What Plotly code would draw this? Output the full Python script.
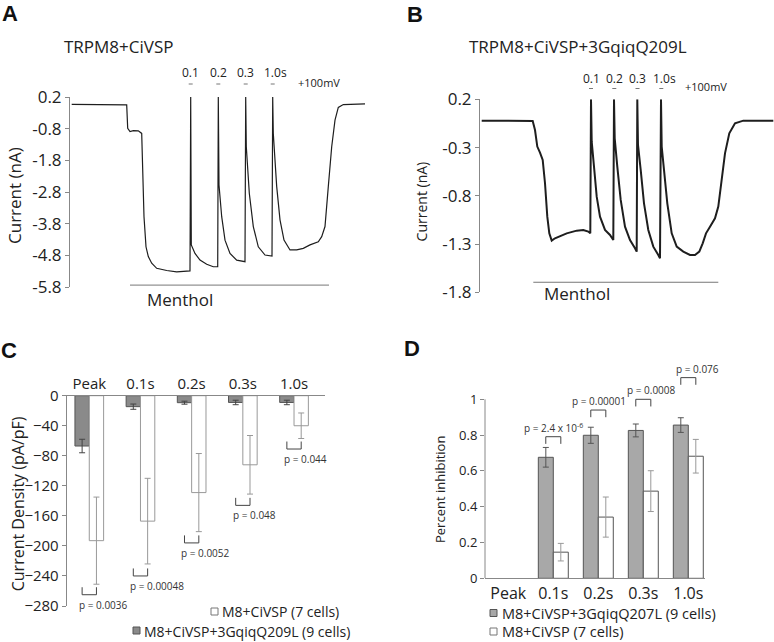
import plotly.graph_objects as go

W, H = 774, 642
FONT = "Open Sans"

# ---- panel A: TRPM8+CiVSP current trace (time arb. units, current nA)
a_time = [1.7, 30, 56.7, 57.7, 60, 63.3, 68.3, 71.7, 72.7, 74, 76, 78.3, 81.7, 86.7, 96.7, 106.7, 120,
          120.7, 121.3, 125, 130, 136.7, 143.3, 147.7,
          148.3, 149, 151.7, 155, 160, 166.7, 175,
          175.7, 176.3, 179.3, 183.3, 188.3, 195, 202,
          202.7, 203.3, 206.7, 210, 214, 220, 226.7, 233.3, 240, 245, 248.3, 251.7, 255, 258.3,
          261.7, 265, 268.3, 273.3, 295]
a_current = [-0.03, -0.04, -0.05, -0.79, -0.89, -0.86, -0.87, -0.95, -2.0, -3.58, -4.53, -4.84, -5.05, -5.21, -5.28, -5.32, -5.29,
             0.2, -4.47, -4.74, -4.95, -5.08, -5.16, -5.16,
             0.2, -2.58, -3.58, -4.32, -4.74, -4.95, -5.0,
             0.2, -1.37, -2.84, -3.89, -4.53, -4.79, -4.82,
             0.2, -0.95, -2.63, -3.68, -4.32, -4.63, -4.63, -4.58, -4.47, -4.40, -4.37, -4.21, -3.89, -2.63,
             -1.37, -0.53, -0.13, -0.04, -0.02]
a_menthol = [60, 259]
a_menthol_level = -5.74
a_ticks = [0.2, -0.8, -1.8, -2.8, -3.8, -4.8, -5.8]
a_pulse_t = [120.7, 148.3, 175.7, 202.7]

# ---- panel B: TRPM8+CiVSP+3GqiqQ209L
b_time = [1.7, 26.7, 52.7, 55, 57.3, 60, 62.7, 65, 67.3, 69.3, 71.7, 75, 80, 86.7, 96.7, 103.3, 108.3, 110.3,
          111, 111.7, 114, 116.7, 120, 125, 130, 133.3,
          134, 134.7, 137.3, 140.7, 145, 150, 155, 156.7,
          157.3, 158, 160.7, 164, 168.3, 173.3, 178.3, 180,
          181, 181.7, 184, 187.3, 191.7, 196.7, 203.3, 210, 215, 219.3, 222.7, 226, 230, 235, 238.3,
          241.7, 245, 249.3, 255, 263.3, 293.3]
b_current = [-0.021, -0.021, -0.025, -0.118, -0.29, -0.353, -0.429, -0.67, -1.016, -1.189, -1.265, -1.24, -1.216, -1.189, -1.161, -1.154, -1.171, -1.189,
             0.2, -0.239, -0.498, -0.809, -1.016, -1.154, -1.206, -1.258,
             0.2, -0.204, -0.498, -0.843, -1.12, -1.258, -1.344, -1.379,
             0.2, -0.273, -0.532, -0.878, -1.154, -1.327, -1.413, -1.448,
             0.2, -0.29, -0.532, -0.878, -1.189, -1.327, -1.379, -1.413, -1.413, -1.379, -1.292, -1.189, -1.12, -1.033, -0.912,
             -0.636, -0.36, -0.152, -0.049, -0.021, -0.021]
b_menthol = [53.3, 238.3]
b_menthol_level = -1.696
b_ticks = [0.2, -0.3, -0.8, -1.3, -1.8]
b_pulse_t = [111, 134.3, 157.5, 181.3]
pulse_labels = ["0.1", "0.2", "0.3", "1.0s"]

# ---- panel C: current density (pA/pF)
categories = ["Peak", "0.1s", "0.2s", "0.3s", "1.0s"]
c_gq = [-67, -14.6, -9.3, -9, -9]
c_gq_err = [9, 3.5, 2, 3, 3]
c_ctrl = [-193, -167, -129, -92, -40]
c_ctrl_err = [58, 57, 52, 39, 17]
c_p = ["p = 0.0036", "p = 0.00048", "p = 0.0052", "p = 0.048", "p = 0.044"]
c_bracket = [-255, -230, -186, -136, -61]
c_ticks = [0, -40, -80, -120, -160, -200, -240, -280]

# ---- panel D: percent inhibition
d_gq = [None, 0.676, 0.799, 0.826, 0.856]
d_gq_err = [0, 0.055, 0.045, 0.036, 0.041]
d_ctrl = [None, 0.146, 0.342, 0.487, 0.682]
d_ctrl_err = [0, 0.049, 0.112, 0.114, 0.094]
d_p = ["p = 2.4 x 10<sup>-6</sup>", "p = 0.00001", "p = 0.0008", "p = 0.076"]
d_bracket = [0.791, 0.94, 1.0, 1.121]
d_ticks = [0, 0.2, 0.4, 0.6, 0.8, 1]


def px(x):
    return x / W


def py(y):
    return 1 - y / H


fig = go.Figure()

# traces A and B
fig.add_trace(go.Scatter(x=a_time, y=a_current, mode="lines", line=dict(color="#1e1e1e", width=1.2),
                         xaxis="x", yaxis="y", hoverinfo="skip"))
fig.add_trace(go.Scatter(x=b_time, y=b_current, mode="lines", line=dict(color="#1e1e1e", width=2),
                         xaxis="x2", yaxis="y2", hoverinfo="skip"))
fig.add_trace(go.Scatter(x=a_menthol, y=[a_menthol_level] * 2, mode="lines", line=dict(color="#777", width=1),
                         xaxis="x", yaxis="y", hoverinfo="skip"))
fig.add_trace(go.Scatter(x=b_menthol, y=[b_menthol_level] * 2, mode="lines", line=dict(color="#777", width=1),
                         xaxis="x2", yaxis="y2", hoverinfo="skip"))

# bars C
xs = list(range(len(categories)))
fig.add_trace(go.Bar(x=xs, y=c_gq, width=0.28, offset=-0.28, xaxis="x3", yaxis="y3",
                     marker=dict(color="#8a8a8a", line=dict(color="#555", width=1)),
                     error_y=dict(type="data", array=c_gq_err, color="#444", thickness=1, width=3)))
fig.add_trace(go.Bar(x=xs, y=c_ctrl, width=0.28, offset=0, xaxis="x3", yaxis="y3",
                     marker=dict(color="white", line=dict(color="#999", width=1)),
                     error_y=dict(type="data", array=c_ctrl_err, color="#999", thickness=1, width=3)))

# bars D
fig.add_trace(go.Bar(x=xs, y=d_gq, width=0.333, offset=-0.333, xaxis="x4", yaxis="y4",
                     marker=dict(color="#a8a8a8", line=dict(color="#555", width=1)),
                     error_y=dict(type="data", array=d_gq_err, color="#555", thickness=1, width=3)))
fig.add_trace(go.Bar(x=xs, y=d_ctrl, width=0.333, offset=0, xaxis="x4", yaxis="y4",
                     marker=dict(color="white", line=dict(color="#555", width=1)),
                     error_y=dict(type="data", array=d_ctrl_err, color="#999", thickness=1, width=3)))

shapes = []
# brackets C (open upward)
for i, top in enumerate(c_bracket):
    x0, x1 = i - 0.14, i + 0.14
    shapes.append(dict(type="path", xref="x3", yref="y3",
                       path=f"M {x0},{top} L {x0},{top - 10} L {x1},{top - 10} L {x1},{top}",
                       line=dict(color="#444", width=1)))
# brackets D (open downward)
for i, top in enumerate(d_bracket, start=1):
    x0, x1 = i - 0.167, i + 0.167
    shapes.append(dict(type="path", xref="x4", yref="y4",
                       path=f"M {x0},{top - 0.04} L {x0},{top} L {x1},{top} L {x1},{top - 0.04}",
                       line=dict(color="#444", width=1)))
# D y axis line only up to 1
shapes.append(dict(type="line", xref="x4 domain", yref="y4", x0=0, x1=0, y0=0, y1=1,
                   line=dict(color="#888", width=1)))

# pulse dashes under the pulse labels
for t in a_pulse_t:
    shapes.append(dict(type="line", xref="x", yref="paper", x0=t - 2, x1=t + 2,
                       y0=py(84), y1=py(84), line=dict(color="#777", width=1)))
for t in b_pulse_t:
    shapes.append(dict(type="line", xref="x2", yref="paper", x0=t - 2, x1=t + 2,
                       y0=py(88.5), y1=py(88.5), line=dict(color="#777", width=1)))


# legend swatches
def swatch(x, y, fill, edge):
    shapes.append(dict(type="rect", xref="paper", yref="paper", x0=px(x), x1=px(x + 7),
                       y0=py(y + 7), y1=py(y), fillcolor=fill, line=dict(color=edge, width=1)))


swatch(211, 608, "white", "#777")
swatch(133, 627, "#8a8a8a", "#555")
swatch(490, 609.5, "#a8a8a8", "#555")
swatch(490, 628, "white", "#777")

ann = []


def text(x, y, s, size, **kw):
    d = dict(x=px(x), y=py(y), xref="paper", yref="paper", text=s, showarrow=False,
             xanchor="center", yanchor="middle",
             font=dict(size=size, family=kw.pop("family", FONT), color=kw.pop("color", "#222")))
    d.update(kw)
    ann.append(d)


# panel letters
for lx, ly, s in [(9.5, 13.5, "A"), (415, 14, "B"), (8.5, 350.5, "C"), (412, 348.5, "D")]:
    text(lx, ly, f"<b>{s}</b>", 22, family="Liberation Sans", color="#111")

text(119, 47, "TRPM8+CiVSP", 17)
text(578, 47, "TRPM8+CiVSP+3GqiqQ209L", 17)
text(14, 196, "Current (nA)", 17, textangle=-90)
text(421.7, 201.7, "Current (nA)", 14, textangle=-90)
text(18.3, 504, "Current Density (pA/pF)", 16, textangle=-90)
text(440, 490, "Percent inhibition", 13, textangle=-90)
text(179.5, 299, "Menthol", 17)
text(576.7, 293.3, "Menthol", 17)
text(318.5, 83, "+100mV", 11)
text(705.8, 86, "+100mV", 11)

# pulse labels above spikes
for t, lab in zip(a_pulse_t, pulse_labels):
    sh = 3 if lab.endswith("s") else 0
    ann.append(dict(x=t, y=py(73), xref="x", yref="paper", text=lab, showarrow=False, xshift=sh,
                    xanchor="center", yanchor="middle",
                    font=dict(size=12, family=FONT, color="#222")))
for t, lab in zip(b_pulse_t, pulse_labels):
    sh = 3 if lab.endswith("s") else 0
    ann.append(dict(x=t, y=py(78), xref="x2", yref="paper", text=lab, showarrow=False, xshift=sh,
                    xanchor="center", yanchor="middle",
                    font=dict(size=12, family=FONT, color="#222")))

# p values C
for i, (top, s) in enumerate(zip(c_bracket, c_p)):
    ann.append(dict(x=i - 0.14, y=top - 10, xref="x3", yref="y3", text=s, showarrow=False,
                    xanchor="left", yanchor="top", xshift=-5, yshift=-1,
                    font=dict(size=10, family=FONT, color="#333")))
# p values D
for i, (top, s, sh) in enumerate(zip(d_bracket, d_p, [0, 1, 8.5, 9.5]), start=1):
    ann.append(dict(x=i, y=top, xref="x4", yref="y4", text=s, showarrow=False,
                    xanchor="center", yanchor="bottom", xshift=sh, yshift=0,
                    font=dict(size=10, family=FONT, color="#333")))

# legends
text(220, 611.7, "M8+CiVSP (7 cells)", 14, xanchor="left")
text(142, 631, "M8+CiVSP+3GqiqQ209L (9 cells)", 14, xanchor="left")
text(499.5, 613.3, "M8+CiVSP+3GqiqQ207L (9 cells)", 14.5, xanchor="left")
text(499.5, 631.7, "M8+CiVSP (7 cells)", 14.5, xanchor="left")


def yax(size, **kw):
    d = dict(showgrid=False, zeroline=False, showline=True, linecolor="#888", linewidth=1,
             ticks="outside", ticklen=4, tickcolor="#888", automargin=False,
             tickfont=dict(family=FONT, color="#222", size=size))
    d.update(kw)
    return d


def xcat(size, **kw):
    d = dict(tickvals=xs, ticktext=categories, showline=True, linecolor="#888", ticks="",
             showgrid=False, zeroline=False, automargin=False,
             tickfont=dict(size=size, family=FONT, color="#222"))
    d.update(kw)
    return d


fig.update_layout(
    width=W, height=H, margin=dict(l=0, r=0, t=0, b=0, autoexpand=False),
    paper_bgcolor="white", plot_bgcolor="white", showlegend=False,
    font=dict(family=FONT, color="#222"),
    barmode="overlay",
    xaxis=dict(domain=[px(70), px(370)], range=[0, 300], visible=False, anchor="y"),
    yaxis=yax(17, domain=[py(287), py(97)], range=[-5.8, 0.2], tickvals=a_ticks,
              ticktext=[f"{v:.1f}" for v in a_ticks], anchor="x"),
    xaxis2=dict(domain=[px(480), 1], range=[0, 294], visible=False, anchor="y2"),
    yaxis2=yax(17, domain=[py(292.3), py(99.3)], range=[-1.8, 0.2], tickvals=b_ticks,
               ticktext=[f"{v:.1f}" for v in b_ticks], anchor="x2"),
    xaxis3=xcat(15, domain=[px(66.7), px(325)], range=[-0.441, 4.605], side="top", anchor="y3"),
    yaxis3=yax(15, domain=[py(606), py(395.7)], range=[-280, 0], tickvals=c_ticks, anchor="x3"),
    xaxis4=xcat(16, domain=[px(485), px(705)], range=[-0.518, 4.371], anchor="y4"),
    yaxis4=yax(13, domain=[py(578.3), py(363.5)], range=[0, 1.2], tickvals=d_ticks,
               ticktext=["0", "0.2", "0.4", "0.6", "0.8", "1"], showline=False, anchor="x4"),
    shapes=shapes, annotations=ann,
)

fig.write_html("out.html", config={"displayModeBar": False},
               post_script="document.body.style.margin='0';")
